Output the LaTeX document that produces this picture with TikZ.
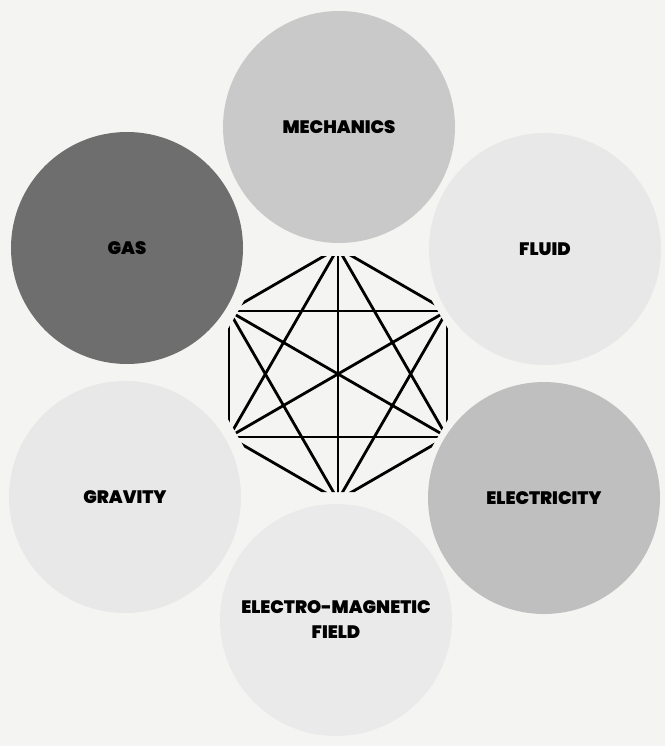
\documentclass[tikz,border=0pt]{standalone}
\usepackage{fontspec}
\newfontfamily\labfont{Poppins Black}
\definecolor{bgc}{HTML}{F4F4F2}
\definecolor{gasc}{HTML}{6E6E6E}
\definecolor{mechc}{HTML}{C9C9C9}
\definecolor{elecc}{HTML}{BFBFBF}
\definecolor{fluidc}{HTML}{E8E8E8}
\definecolor{gravc}{HTML}{E8E8E8}
\definecolor{emc}{HTML}{EAEAEA}
\tikzset{
  disc/.style={circle, minimum size=232pt, inner sep=0pt, draw=none,
    font=\labfont\fontsize{18pt}{25pt}\selectfont, text=black, align=center},
  link/.style={line width=2.8pt, black}
}
\begin{document}
\begin{tikzpicture}[x=1pt,y=-1pt]
\fill[bgc] (0,0) rectangle (665,746);
\useasboundingbox (0,0) rectangle (665,746);
\node[disc, fill=mechc]  (mech)  at (339,127) {MECHANICS};
\node[disc, fill=gasc]   (gas)   at (127,248) {GAS};
\node[disc, fill=fluidc] (fluid) at (545,249) {FLUID};
\node[disc, fill=gravc]  (grav)  at (125,497) {GRAVITY};
\node[disc, fill=elecc]  (elec)  at (544,498) {ELECTRICITY};
\node[disc, fill=emc]    (em)    at (336,620) {ELECTRO-MAGNETIC\\FIELD};
% network
\coordinate (c) at (338,374);
\coordinate (v1) at (338,248);
\coordinate (v2) at (447,311);
\coordinate (v3) at (447,437);
\coordinate (v4) at (338,500);
\coordinate (v5) at (229,437);
\coordinate (v6) at (229,311);
\begin{scope}
\clip (474,374) -- (406,256) -- (270,256) -- (202,374) -- (270,492) -- (406,492) -- cycle;
\foreach \a/\b in {v1/v2,v2/v3,v3/v4,v4/v5,v5/v6,v6/v1,
                   v1/v3,v2/v4,v3/v5,v4/v6,v5/v1,v6/v2,
                   v1/v4,v2/v5,v3/v6}
  \draw[link] (\a) -- (\b);
\end{scope}
\end{tikzpicture}
\end{document}
